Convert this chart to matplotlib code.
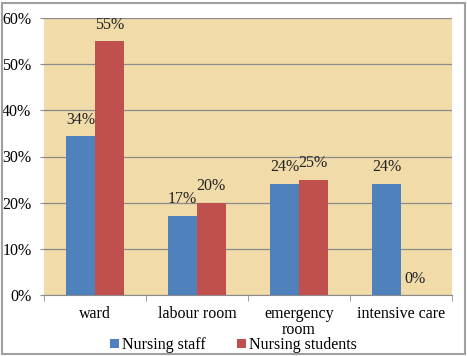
import matplotlib
matplotlib.use("Agg")
import matplotlib.pyplot as plt
import numpy as np
from matplotlib.patches import Rectangle

categories = ["ward", "labour room", "emergency\nroom", "intensive care"]
staff = [34.4, 17.2, 24.1, 24.1]
students = [55.0, 20.0, 25.0, 0.0]
staff_labels = ["34%", "17%", "24%", "24%"]
student_labels = ["55%", "20%", "25%", "0%"]
series_names = ["Nursing staff", "Nursing students"]
yticks = [0, 10, 20, 30, 40, 50, 60]

plt.rcParams['font.family'] = ['Liberation Serif', 'DejaVu Serif']

fig = plt.figure(figsize=(4.67, 3.56), dpi=100)
ax = fig.add_axes([44/467, 1-295/356, (452-44)/467, (295-18)/356])
ax.set_facecolor('#F0DBA9')

x = np.arange(len(categories)) + 0.5
w = 0.28
b1 = ax.bar(x - w/2, staff, w, color='#4F81BD', label=series_names[0], zorder=3)
b2 = ax.bar(x + w/2, students, w, color='#C0504D', label=series_names[1], zorder=3)

for bars, labels in ((b1, staff_labels), (b2, student_labels)):
    for r, lab in zip(bars, labels):
        ax.annotate(lab, (r.get_x() + r.get_width()/2, r.get_height()),
                    xytext=(0, 6), textcoords='offset points', ha='center', va='bottom',
                    fontsize=11.5, color='#222222', zorder=4, annotation_clip=False)

ax.set_xlim(0, 4)
ax.set_ylim(0, 60)
ax.set_yticks(yticks)
ax.set_yticklabels([f"{t}%" for t in yticks], fontsize=11.5)
ax.yaxis.grid(True, color='#8C8C8C', linewidth=0.9, zorder=1)
ax.tick_params(axis='y', length=3, color='#8C8C8C', pad=6)
ax.set_xticks(x)
ax.set_xticklabels(categories, fontsize=11.5, linespacing=1.0)
ax.tick_params(axis='x', length=0, pad=8)
ax.set_xticks(np.arange(0, 5), minor=True)
ax.tick_params(axis='x', which='minor', length=4, color='#8C8C8C')
for s in ['top', 'right', 'left']:
    ax.spines[s].set_visible(False)
ax.spines['bottom'].set_color('#8C8C8C')

fig.legend(handles=[b1, b2], loc='center', bbox_to_anchor=(0.5, 1-345/356), ncol=2,
           frameon=False, fontsize=11.5, handlelength=0.55, handleheight=0.55,
           handletextpad=0.2, columnspacing=2.0, borderpad=0.1)

fig.patches.append(Rectangle((2/467, 2/356), 463/467, 351/356, transform=fig.transFigure,
                             fill=False, edgecolor='#A0A0A0', linewidth=1.5))

fig.savefig("out.png", dpi=100)
